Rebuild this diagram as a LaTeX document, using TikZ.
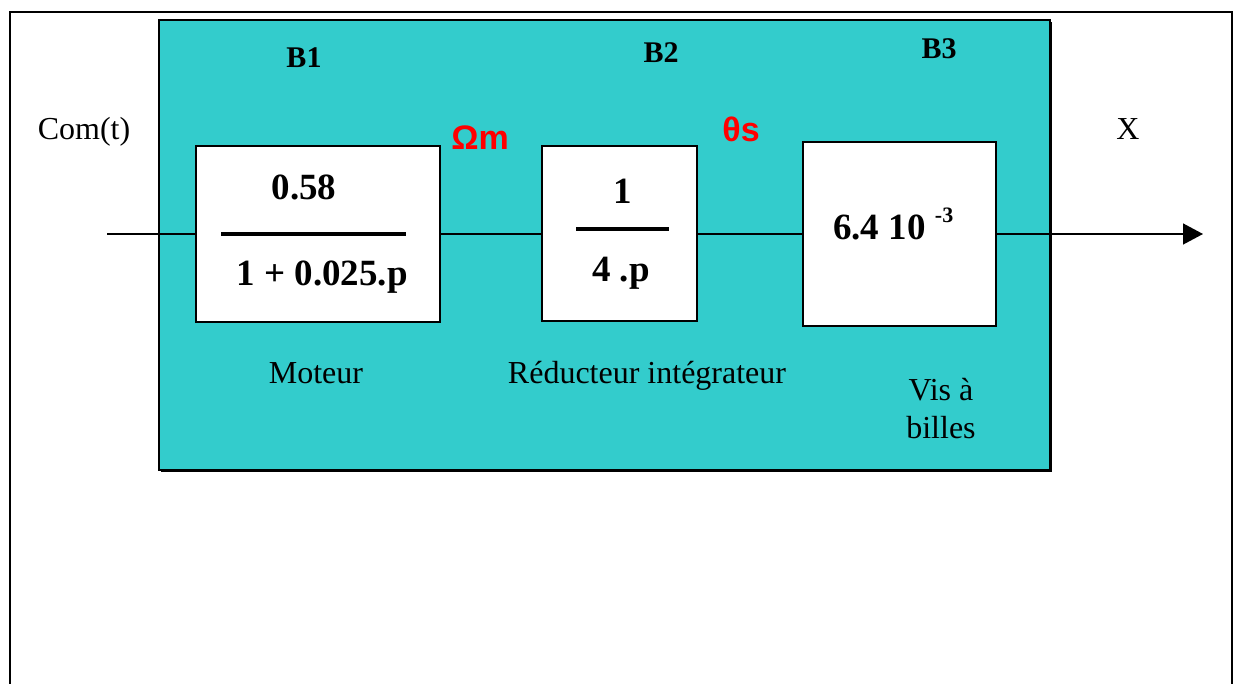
\documentclass[tikz,border=0pt]{standalone}
\usepackage{fontspec}
\setmainfont{Liberation Serif}
\newfontfamily\arialfont{Liberation Sans}
\usetikzlibrary{arrows.meta}
\definecolor{tealbg}{HTML}{33CCCC}
\begin{document}
\begin{tikzpicture}[x=1pt,y=-1pt,
  blk/.style={draw=black,fill=white,line width=2pt,inner sep=0pt,outer sep=0pt},
  signal/.style={line width=1.4pt},
  fracbar/.style={line width=4pt},
  lbl/.style={font=\fontsize{32}{39}\selectfont,anchor=base,inner sep=0pt,align=center},
  num/.style={font=\fontsize{37}{44}\selectfont\bfseries,anchor=base,inner sep=0pt},
  blab/.style={font=\fontsize{30}{36}\selectfont\bfseries,anchor=base,inner sep=0pt},
  sig/.style={font=\arialfont\fontsize{34}{42}\selectfont\bfseries,text=red,anchor=base,inner sep=0pt}]
\useasboundingbox (0,0) rectangle (1236,684);
% outer frame (bottom edge cut off)
\draw[line width=1.6pt] (10,684) -- (10,12) -- (1232,12) -- (1232,684);
% teal panel with slight shadow
\fill[black] (161,22) rectangle (1052,472);
\filldraw[fill=tealbg,draw=black,line width=1.6pt] (159,20) rectangle (1050,470);
% blocks
\node[blk,minimum width=244pt,minimum height=176pt] (b1) at (318,234) {};
\node[blk,minimum width=155pt,minimum height=175pt] (b2) at (619.5,234) {};
\node[blk,minimum width=193pt,minimum height=184pt] (b3) at (899.5,234) {};
% signal line
\coordinate (in) at (107,234);
\coordinate (out) at (1203,234);
\draw[signal] (in) -- (b1.west);
\draw[signal] (b1.east) -- (b2.west);
\draw[signal] (b2.east) -- (b3.west);
\draw[signal,-{Triangle[length=20pt,width=21pt]}] (b3.east) -- (out);
% block contents
\node[num] (n1) at (304,200) {0.58};
\draw[fracbar] (221,234) -- (406,234);
\node[num] (d1) at (322,286) {1 + 0.025.p};
\node[num] (n2) at (623,204) {1};
\draw[fracbar] (576,229) -- (669,229);
\node[num] (d2) at (621,282) {4 .p};
\node[num,anchor=base west] (g3) at (833,240) {6.4 10 \raisebox{17pt}{\fontsize{22}{22}\selectfont\bfseries -3}};
% block titles
\node[blab] (t1) at (304,68) {B1};
\node[blab] (t2) at (661,63) {B2};
\node[blab] (t3) at (939,59) {B3};
% signal names
\node[lbl] (com) at (84,140) {Com(t)};
\node[lbl] (x) at (1128,140) {X};
\node[sig] (om) at (480,150) {Ωm};
\node[sig] (th) at (741,142) {θs};
% descriptions
\node[lbl] (mot) at (316,383) {Moteur};
\node[lbl] (red) at (647,383) {Réducteur intégrateur};
\node[lbl] (vis1) at (941,400) {Vis à};
\node[lbl] (vis2) at (941,438) {billes};
\end{tikzpicture}
\end{document}
